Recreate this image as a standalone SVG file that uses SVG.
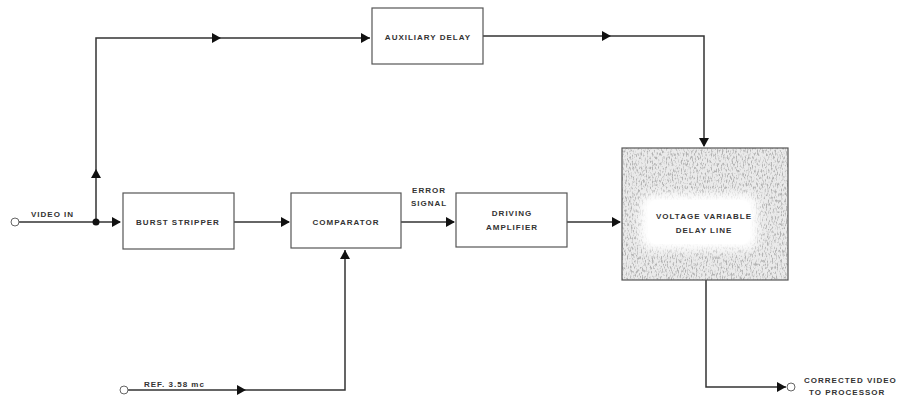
<svg xmlns="http://www.w3.org/2000/svg" width="914" height="398" viewBox="0 0 914 398">
<style>
.box{fill:#fff;stroke:#555;stroke-width:1.2}
.ln{fill:none;stroke:#333;stroke-width:1.5}
.t{font-family:"Liberation Sans",Arial,sans-serif;font-size:8px;font-weight:bold;letter-spacing:1px;fill:#333;text-anchor:middle}
.tl{font-family:"Liberation Sans",Arial,sans-serif;font-size:8px;font-weight:bold;letter-spacing:1px;fill:#333}
.ah{fill:#111}
.term{fill:#fff;stroke:#666;stroke-width:1}
</style>
<defs>
<filter id="stip" x="0" y="0" width="1" height="1">
<feTurbulence type="fractalNoise" baseFrequency="0.8 0.3" numOctaves="2" seed="3" result="n"/>
<feColorMatrix in="n" type="matrix" values="0 0 0 0 0.45  0 0 0 0 0.45  0 0 0 0 0.45  0 0 0 -4 2.1" result="dots"/>
<feFlood flood-color="#eaeaea" result="bg"/>
<feComposite in="dots" in2="bg" operator="over" result="tex"/>
<feComposite in="tex" in2="SourceGraphic" operator="in"/>
</filter>
<filter id="blur"><feGaussianBlur stdDeviation="5"/></filter>
</defs>

<g id="connectors">
<path class="ln" d="M19,222 H120"/>
<path class="ln" d="M96,222 V38 H370"/>
<path class="ln" d="M234,222 H289"/>
<path class="ln" d="M401,222 H454"/>
<path class="ln" d="M567,222 H620"/>
<path class="ln" d="M483,36 H704 V146"/>
<path class="ln" d="M128,390 H345 V250"/>
<path class="ln" d="M706,280 V387 H786"/>
<circle cx="96" cy="222" r="3.5" fill="#111"/>
<polygon class="ah" points="112,217 121,222 112,227"/>
<polygon class="ah" points="91,178 96,169 101,178"/>
<polygon class="ah" points="212,33 221,38 212,43"/>
<polygon class="ah" points="361,33 370,38 361,43"/>
<polygon class="ah" points="281,217 290,222 281,227"/>
<polygon class="ah" points="446,217 455,222 446,227"/>
<polygon class="ah" points="612,217 621,222 612,227"/>
<polygon class="ah" points="602,31 611,36 602,41"/>
<polygon class="ah" points="699,138 704,147 709,138"/>
<polygon class="ah" points="340,259 345,250 350,259"/>
<polygon class="ah" points="237,385 246,390 237,395"/>
<polygon class="ah" points="777,382 786,387 777,392"/>
<circle class="term" cx="15" cy="222" r="4"/>
<circle class="term" cx="124" cy="390" r="4"/>
<circle class="term" cx="791" cy="387" r="4"/>
</g>

<g id="video-in"><text class="tl" x="31" y="217">VIDEO IN</text></g>
<g id="ref"><text class="tl" x="144" y="387">REF. 3.58 mc</text></g>
<g id="error-signal"><text class="t" x="429" y="193">ERROR</text><text class="t" x="429" y="206">SIGNAL</text></g>
<g id="output"><text class="tl" x="804" y="383">CORRECTED VIDEO</text><text class="tl" x="809" y="395">TO PROCESSOR</text></g>

<g id="auxiliary-delay">
<rect class="box" x="372" y="8" width="111" height="56"/>
<text class="t" x="428" y="40">AUXILIARY DELAY</text>
</g>
<g id="burst-stripper">
<rect class="box" x="123" y="193" width="111" height="56"/>
<text class="t" x="178" y="225">BURST STRIPPER</text>
</g>
<g id="comparator">
<rect class="box" x="291" y="193" width="110" height="55"/>
<text class="t" x="346" y="225">COMPARATOR</text>
</g>
<g id="driving-amplifier">
<rect class="box" x="456" y="193" width="111" height="54"/>
<text class="t" x="512" y="216">DRIVING</text>
<text class="t" x="512" y="230">AMPLIFIER</text>
</g>
<g id="voltage-variable-delay-line">
<rect x="622" y="148" width="166" height="132" fill="#000" filter="url(#stip)"/>
<rect x="622" y="148" width="166" height="132" fill="none" stroke="#555" stroke-width="1.2"/>
<rect x="640" y="194" width="118" height="56" rx="12" fill="#fff" filter="url(#blur)"/>
<rect x="648" y="200" width="102" height="44" rx="8" fill="#fff"/>
<text class="t" x="704" y="219">VOLTAGE VARIABLE</text>
<text class="t" x="704" y="233">DELAY LINE</text>
</g>
</svg>
